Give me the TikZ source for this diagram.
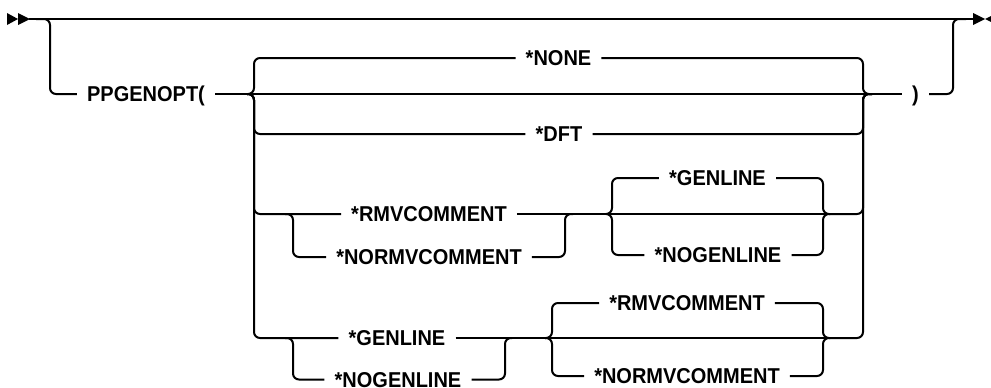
\documentclass[tikz,border=0pt]{standalone}
\usepackage{fontspec}
\newfontfamily\rrfont{Liberation Sans}[FakeStretch=0.93]
\begin{document}
\begin{tikzpicture}[x=1pt,y=-1pt,
  rail/.style={line width=2pt, rounded corners=6pt},
  kw/.style={font=\rrfont\bfseries\fontsize{21.5}{25}\selectfont, inner xsep=10pt, inner ysep=0pt, text height=15.4pt, text depth=0pt},
  tipfill/.style={fill=black}]
\useasboundingbox (0,0) rectangle (991,388);
% keyword nodes
\node[kw] (ppg) at (146,94) {PPGENOPT(};
\node[kw] (none) at (558.5,58) {*NONE};
\node[kw] (dft) at (559,134) {*DFT};
\node[kw] (rmvA) at (429,214) {*RMVCOMMENT};
\node[kw] (normvA) at (429,257) {*NORMVCOMMENT};
\node[kw] (genB) at (717.5,178) {*GENLINE};
\node[kw] (nogenB) at (718,255) {*NOGENLINE};
\node[kw] (genC) at (397,338) {*GENLINE};
\node[kw] (nogenC) at (398,379.5) {*NOGENLINE};
\node[kw] (rmvD) at (687,303) {*RMVCOMMENT};
\node[kw] (normvD) at (687,376) {*NORMVCOMMENT};
\node[kw] (rpar) at (915.5,94) {)};
% junction coordinates
\coordinate (s) at (29,19);
\coordinate (e) at (975,19);
\coordinate (byp) at (36,19);
\coordinate (ex) at (966,19);
\coordinate (L) at (247,94);
\coordinate (R) at (872,94);
\coordinate (aL) at (285,214);
\coordinate (aR) at (573,214);
\coordinate (bL) at (606,214);
\coordinate (bR) at (830,214);
\coordinate (cL) at (285,338);
\coordinate (cR) at (512,338);
\coordinate (dL) at (545,338);
\coordinate (dR) at (830,338);
% start and end marks
\fill[tipfill] (7,13) -- (18,19) -- (7,25) -- cycle;
\fill[tipfill] (18,13) -- (30,19) -- (18,25) -- cycle;
\fill[tipfill] (973,13) -- (985,19) -- (973,25) -- cycle;
\fill[tipfill] (997,13) -- (985,19) -- (997,25) -- cycle;
% top line and bypass
\draw[rail] (s) -- (e);
\draw[rail] (byp) -- (50,19) -- (50,94) -- (ppg.west);
\draw[rail] (ppg.east) -- (L);
\draw[rail] (L) -- (R);
\draw[rail] (R) -- (rpar.west);
\draw[rail] (rpar.east) -- (953,94) -- (953,19) -- (ex);
% main left brace
\draw[rail] (L) -- (254,94) -- (254,58) -- (none.west);
\draw[rail] (L) -- (254,94) -- (254,134) -- (dft.west);
\draw[rail] (L) -- (254,94) -- (254,214) -- (rmvA.west);
\draw[rail] (L) -- (254,94) -- (254,338) -- (genC.west);
% main right brace
\draw[rail] (none.east) -- (863,58) -- (863,94) -- (R);
\draw[rail] (dft.east) -- (863,134) -- (863,94) -- (R);
\draw[rail] (bR) -- (863,214) -- (863,94) -- (R);
\draw[rail] (dR) -- (863,338) -- (863,94) -- (R);
% group A
\draw[rail] (aL) -- (293,214) -- (293,257) -- (normvA.west);
\draw[rail] (normvA.east) -- (565,257) -- (565,214) -- (aR);
\draw[rail] (rmvA.east) -- (bL);
% group B
\draw[rail] (bL) -- (bR);
\draw[rail] (bL) -- (612,214) -- (612,178) -- (genB.west);
\draw[rail] (genB.east) -- (823,178) -- (823,214) -- (bR);
\draw[rail] (bL) -- (612,214) -- (612,255) -- (nogenB.west);
\draw[rail] (nogenB.east) -- (823,255) -- (823,214) -- (bR);
% group C
\draw[rail] (cL) -- (293,338) -- (293,379.5) -- (nogenC.west);
\draw[rail] (nogenC.east) -- (505,379.5) -- (505,338) -- (cR);
\draw[rail] (genC.east) -- (dL);
% group D
\draw[rail] (dL) -- (dR);
\draw[rail] (dL) -- (552,338) -- (552,303) -- (rmvD.west);
\draw[rail] (rmvD.east) -- (823,303) -- (823,338) -- (dR);
\draw[rail] (dL) -- (552,338) -- (552,376) -- (normvD.west);
\draw[rail] (normvD.east) -- (823,376) -- (823,338) -- (dR);
\end{tikzpicture}
\end{document}
